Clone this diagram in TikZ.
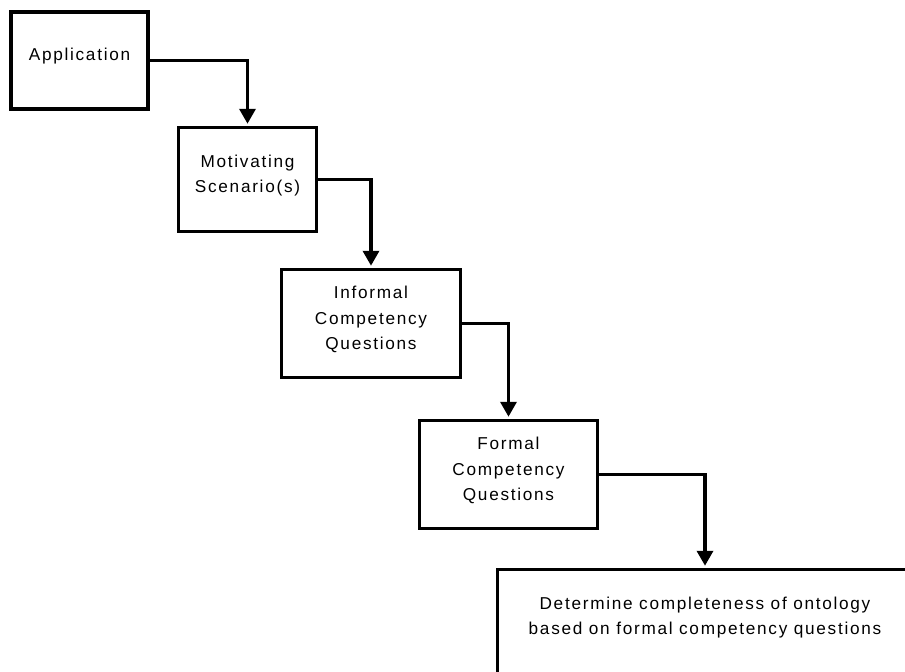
\documentclass[tikz,border=0pt]{standalone}
\usepackage{fontspec}
\setmainfont{Liberation Sans}[LetterSpace=10]
\usetikzlibrary{arrows.meta}
\begin{document}
\begin{tikzpicture}[x=1pt,y=-1pt,
  stage/.style={draw=black, line width=3.5pt, inner sep=0pt},
  lbl/.style={align=center, yshift=4pt,
    font={\fontsize{17.2}{25.5}\selectfont}},
  conn/.style={line width=3.5pt, -{Triangle[width=16pt,length=15pt]},
    shorten >=2pt}]
  \useasboundingbox (0,0) rectangle (905,672);
  \clip (0,0) rectangle (905,672);

  % process stages
  \node[stage, minimum width=137pt, minimum height=97pt,
    label={[lbl]center:Application}] (d1) at (79.5,60.5) {};
  \node[stage, minimum width=138pt, minimum height=104pt,
    label={[lbl]center:Motivating\\Scenario(s)}] (d2) at (247.5,179.5) {};
  \node[stage, minimum width=179pt, minimum height=108pt,
    label={[lbl]center:Informal\\Competency\\Questions}] (d3) at (371,323.5) {};
  \node[stage, minimum width=178pt, minimum height=108pt,
    label={[lbl]center:Formal\\Competency\\Questions}] (d4) at (508.5,474.5) {};
  \node[stage, minimum width=415pt, minimum height=120pt,
    label={[lbl, yshift=8pt]center:Determine completeness of ontology\\based on formal competency questions}] (d5) at (705,629.5) {};

  % flow between stages
  \draw[conn] (d1.east) -| (d2.north);
  \draw[conn] (d2.east) -| (d3.north);
  \draw[conn] (d3.east) -| (d4.north);
  \draw[conn] (d4.east) -| (d5.north);
\end{tikzpicture}
\end{document}
